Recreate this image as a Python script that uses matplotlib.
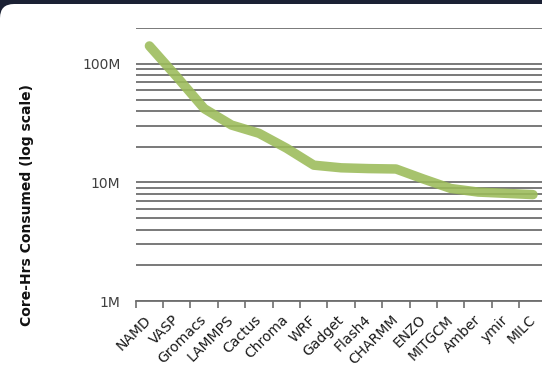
import matplotlib
matplotlib.use('Agg')
import matplotlib.pyplot as plt
import numpy as np
from matplotlib.patches import FancyBboxPatch
from matplotlib.transforms import IdentityTransform

codes = ['NAMD', 'VASP', 'Gromacs', 'LAMMPS', 'Cactus', 'Chroma', 'WRF', 'Gadget',
         'Flash4', 'CHARMM', 'ENZO', 'MITGCM', 'Amber', 'ymir', 'MILC']
core_hours = [142e6, 78e6, 42e6, 30.5e6, 26e6, 19.5e6, 14.0e6, 13.3e6,
              13.1e6, 13.0e6, 10.7e6, 8.9e6, 8.3e6, 8.1e6, 7.9e6]
ytick_vals = [1e6, 1e7, 1e8]
ytick_labels = ['1M', '10M', '100M']

W, H = 542, 375
fig = plt.figure(figsize=(W / 100, H / 100), dpi=100)
fig.patch.set_facecolor('#1b2134')

# white rounded panel under the chart (dark strip shows at top)
panel = FancyBboxPatch((0, -30), W + 40, H - 4 + 30,
                       boxstyle='round,pad=0,rounding_size=14',
                       transform=IdentityTransform(), facecolor='white',
                       edgecolor='none', zorder=-10)
fig.patches.append(panel)

ax = fig.add_axes([135.7 / W, 1 - 301 / H, (546.7 - 135.7) / W, (301 - 28.3) / H])
ax.set_facecolor('none')
ax.set_zorder(1)

x = np.arange(len(codes))
ax.plot(x, core_hours, color='#9bbb59', lw=6.8, alpha=0.88,
        solid_capstyle='round', solid_joinstyle='round', zorder=3)

ax.set_yscale('log')
ax.set_ylim(1e6, 2e8)
ax.set_xlim(-0.5, len(codes) - 0.5)

ax.grid(True, which='both', axis='y', color='#6e6e6e', lw=1.3, zorder=1)
ax.set_axisbelow(True)

ax.set_yticks(ytick_vals)
ax.set_yticklabels(ytick_labels)
ax.tick_params(axis='y', which='both', length=0, pad=11, labelsize=10,
               labelcolor='#404040')
ax.yaxis.set_minor_formatter(plt.NullFormatter())

ax.set_xticks(x)
ax.set_xticklabels(codes, rotation=45, ha='right', va='center',
                   rotation_mode='anchor', fontsize=10, color='#1a1a1a')
ax.tick_params(axis='x', which='major', length=0, pad=12)
ax.set_xticks(np.arange(len(codes) + 1) - 0.5, minor=True)
ax.tick_params(axis='x', which='minor', length=5, width=1.2, color='#6e6e6e')

for side in ['top', 'right', 'left']:
    ax.spines[side].set_visible(False)
ax.spines['bottom'].set_color('#6e6e6e')
ax.spines['bottom'].set_linewidth(1.3)

fig.text(27 / W, 1 - 205 / H, 'Core-Hrs Consumed (log scale)', rotation=90,
         ha='center', va='center', fontsize=10, fontweight='bold', color='#111111')

fig.savefig('out.png', dpi=100, facecolor=fig.get_facecolor())
